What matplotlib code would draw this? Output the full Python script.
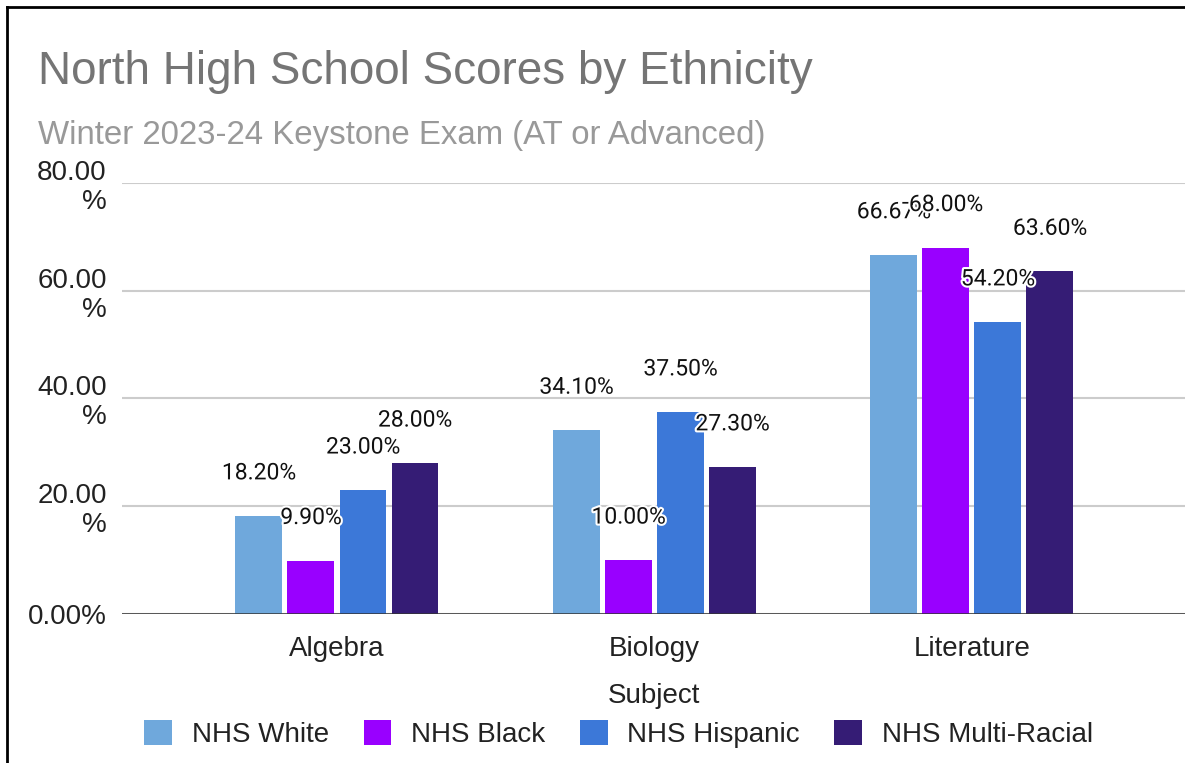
import numpy as np
import matplotlib
matplotlib.use("Agg")
import matplotlib.pyplot as plt
import matplotlib.patheffects as pe
from matplotlib.lines import Line2D
from matplotlib.patches import Patch

plt.rcParams['font.family'] = ['Liberation Sans', 'DejaVu Sans']

subjects = ['Algebra', 'Biology', 'Literature']
groups = ['NHS White', 'NHS Black', 'NHS Hispanic', 'NHS Multi-Racial']
white = [18.2, 34.1, 66.67]
black = [9.9, 10.0, 68.0]
hispanic = [23.0, 37.5, 54.2]
multi = [28.0, 27.3, 63.6]
y_ticks = [0, 20, 40, 60, 80]
y_tick_labels = ['0.00%', '20.00\n%', '40.00\n%', '60.00\n%', '80.00\n%']

colors = ['#6fa8dc', '#9900ff', '#3c78d8', '#351c75']
series = [white, black, hispanic, multi]

fig = plt.figure(figsize=(11.85, 7.63), dpi=100)
ax = fig.add_axes([0.103, 0.1953, 0.897, 0.5649])

x = np.arange(len(subjects))
width = 0.148
step = 0.1638
for i, (vals, c, name) in enumerate(zip(series, colors, groups)):
    pos = x + (i - 1.5) * step
    ax.bar(pos, vals, width, color=c, label=name, zorder=3)
    for px, v in zip(pos, vals):
        ax.annotate('%.2f%%' % v, (px, v), xytext=(0, 31), textcoords='offset points',
                    ha='center', va='center', fontsize=16.5, family='Roboto', color='#111111',
                    zorder=5, path_effects=[pe.withStroke(linewidth=3, foreground='white')])

ax.set_xlim(-0.677, 2.671)
ax.set_ylim(0, 80)
ax.set_yticks(y_ticks)
ax.set_yticklabels(y_tick_labels, fontsize=20, color='#222222', multialignment='right',
                   linespacing=1.15)
ax.set_xticks(x)
ax.set_xticklabels(subjects, fontsize=20, color='#222222')
ax.tick_params(axis='both', length=0)
ax.tick_params(axis='y', pad=11)
ax.tick_params(axis='x', pad=16)
ax.set_xlabel('Subject', fontsize=20, color='#222222', labelpad=15)

for s in ax.spines.values():
    s.set_visible(False)
ax.grid(axis='y', color='#cccccc', linewidth=1.5, zorder=0)
ax.axhline(0, color='#333333', linewidth=1.8, zorder=4)

fig.text(0.032, 0.906, 'North High School Scores by Ethnicity', fontsize=33, color='#757575',
         ha='left', va='center')
fig.text(0.032, 0.822, 'Winter 2023-24 Keystone Exam (AT or Advanced)', fontsize=23.8,
         color='#999999', ha='left', va='center')

handles = [Patch(facecolor=c, edgecolor='none') for c in colors]
fig.legend(handles, groups, loc='center', bbox_to_anchor=(0.522, 0.038), ncol=4, frameon=False,
           fontsize=20, handlelength=1.0, handleheight=1.0, columnspacing=1.25, handletextpad=0.7,
           labelcolor='#222222')

# border on left and top
fig.add_artist(Line2D([0.006, 0.006], [0, 0.991], transform=fig.transFigure, color='black', linewidth=2))
fig.add_artist(Line2D([0.006, 1], [0.991, 0.991], transform=fig.transFigure, color='black', linewidth=2))

fig.savefig('out.png', dpi=100)
